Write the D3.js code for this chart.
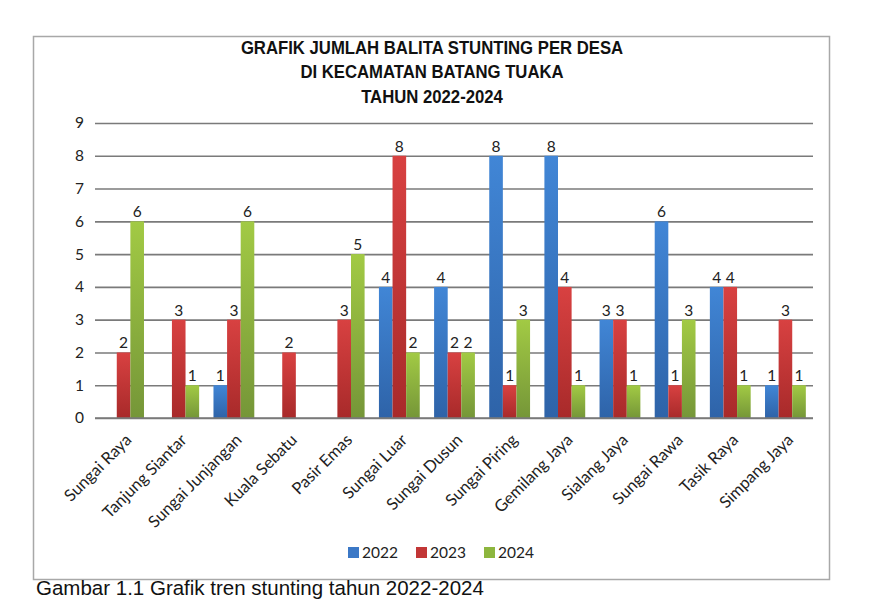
<!DOCTYPE html>
<html><head><meta charset="utf-8">
<script src="https://cdn.jsdelivr.net/npm/d3@7"></script>
<style>body{margin:0;background:#fff;} svg{display:block;}</style>
</head><body>
<script>
const categories = ["Sungai Raya","Tanjung Siantar","Sungai Junjangan","Kuala Sebatu","Pasir Emas","Sungai Luar","Sungai Dusun","Sungai Piring","Gemilang Jaya","Sialang Jaya","Sungai Rawa","Tasik Raya","Simpang Jaya"];
const years = ["2022","2023","2024"];
const values2022 = [0,0,1,0,0,4,4,8,8,3,6,4,1];
const values2023 = [2,3,3,2,3,8,2,1,4,3,1,4,3];
const values2024 = [6,1,6,0,5,2,2,3,1,1,3,1,1];
const yTicks = [0,1,2,3,4,5,6,7,8,9];
const titleLines = ["GRAFIK JUMLAH BALITA STUNTING PER DESA","DI KECAMATAN BATANG TUAKA","TAHUN 2022-2024"];
const caption = "Gambar 1.1 Grafik tren stunting tahun 2022-2024";

const series = [values2022, values2023, values2024];
const colors = [["#4186d6","#2e63a8"],["#d84141","#a82a2a"],["#a2ca44","#759638"]];
const legendColors = ["#3b78c6","#c23636","#8db63e"];

const W=870,H=600;
const svg=d3.select("body").append("svg").attr("width",W).attr("height",H);
const defs=svg.append("defs");
colors.forEach((c,i)=>{
  const g=defs.append("linearGradient").attr("id","g"+i).attr("x1",0).attr("y1",0).attr("x2",0).attr("y2",1);
  g.append("stop").attr("offset","0%").attr("stop-color",c[0]);
  g.append("stop").attr("offset","100%").attr("stop-color",c[1]);
});

svg.append("rect").attr("x",33.5).attr("y",36.5).attr("width",796).attr("height",543)
  .attr("fill","#fff").attr("stroke","#a8a8a8").attr("stroke-width",1.5);

const fontC="Lato, 'Open Sans', sans-serif";
const title=svg.append("text").attr("text-anchor","middle")
  .attr("transform","translate(432,0) scale(0.88,1)")
  .attr("font-family","'Liberation Sans', Arial, sans-serif")
  .attr("font-weight","bold").attr("font-size",19).attr("fill","#111");
titleLines.forEach((t,i)=>title.append("tspan").attr("x",0).attr("y",54+i*24.5).text(t));

const x0=96,x1=813,yTop=123,yBot=418;
const x=d3.scaleBand().domain(categories).range([x0,x1]).paddingInner(0.26).paddingOuter(0.13);
const xs=d3.scaleBand().domain(years).range([0,x.bandwidth()]);
const y=d3.scaleLinear().domain([0,9]).range([yBot,yTop]);

const yAxis=svg.append("g").attr("transform",`translate(${x0-1},0)`)
  .call(d3.axisLeft(y).tickValues(yTicks).tickSize(-(x1-x0+1)).tickPadding(11).tickFormat(d3.format("d")));
yAxis.select(".domain").remove();
yAxis.selectAll(".tick line").attr("stroke","#7a7a7a").attr("stroke-width",1.6);
yAxis.selectAll(".tick text").attr("font-family",fontC).attr("font-size",15.5).attr("fill","#222");

const groups=svg.append("g").selectAll("g").data(categories).join("g")
  .attr("transform",d=>`translate(${x(d)},0)`);
years.forEach((yr,si)=>{
  groups.filter((d,i)=>series[si][i]>0).append("rect")
    .attr("x",xs(yr)).attr("width",xs.bandwidth())
    .attr("y",d=>y(series[si][categories.indexOf(d)]))
    .attr("height",d=>yBot-y(series[si][categories.indexOf(d)]))
    .attr("fill",`url(#g${si})`);
  groups.filter((d,i)=>series[si][i]>0).append("text")
    .attr("x",xs(yr)+xs.bandwidth()/2)
    .attr("y",d=>y(series[si][categories.indexOf(d)])-4)
    .attr("text-anchor","middle").attr("font-family",fontC).attr("font-size",15.5).attr("fill","#222")
    .text(d=>series[si][categories.indexOf(d)]);
});

svg.append("line").attr("x1",x0-1).attr("x2",x1).attr("y1",yBot).attr("y2",yBot).attr("stroke","#7a7a7a").attr("stroke-width",1.6);

const xAxis=svg.append("g").attr("transform",`translate(0,${yBot})`)
  .call(d3.axisBottom(x).tickSize(0).tickPadding(0));
xAxis.select(".domain").remove();
xAxis.selectAll(".tick text").attr("font-family",fontC).attr("font-size",16.5).attr("fill","#222")
  .attr("text-anchor","end").attr("dy",0).attr("y",0)
  .attr("transform","translate(9,23) rotate(-45)");

const leg=svg.append("g");
const lx=[348,416,484];
years.forEach((yr,i)=>{
  leg.append("rect").attr("x",lx[i]).attr("y",547).attr("width",11).attr("height",11).attr("fill",legendColors[i]);
  leg.append("text").attr("x",lx[i]+14).attr("y",558).attr("font-family",fontC).attr("font-size",15.5).attr("fill","#222").text(yr);
});

svg.append("text").attr("x",36).attr("y",595).attr("font-family","'Liberation Sans', Arial, sans-serif")
  .attr("font-size",20.5).attr("fill","#111").text(caption);
</script>
</body></html>
